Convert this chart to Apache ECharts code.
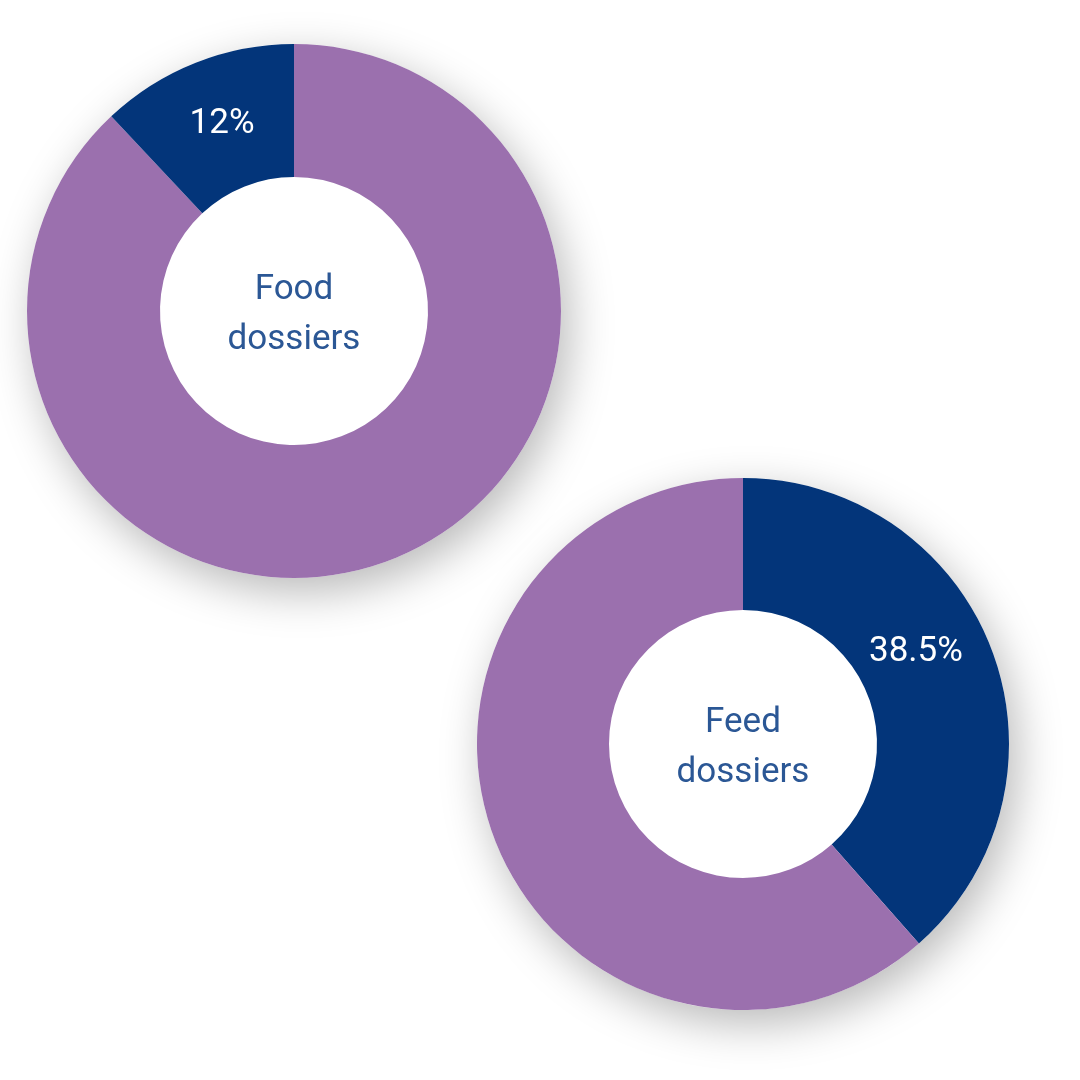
<!DOCTYPE html>
<html>
<head>
<meta charset="utf-8">
<script src="https://cdn.jsdelivr.net/npm/echarts@6/dist/echarts.min.js"></script>
<style>
  html, body { margin: 0; padding: 0; background: #fff; }
  #chart { width: 1080px; height: 1080px; }
</style>
</head>
<body>
<div id="chart"></div>
<script>
// values
var chartNames = ['Food\ndossiers', 'Feed\ndossiers'];
var sliceNames = ['Other', 'Share'];
var foodValues = [88, 12];      // purple, navy (navy ends at 12 o'clock)
var feedValues = [38.5, 61.5];  // navy, purple (navy starts at 12 o'clock)

var NAVY = '#03357a';
var PURPLE = '#9b70ae';
var TEXT = '#2b5795';

var chart = echarts.init(document.getElementById('chart'));

// white disc under each ring: carries the soft drop shadow and the centre text
function shadowDisc(name, center, r) {
  return {
    type: 'pie',
    silent: true,
    z: 1,
    center: center,
    radius: [0, r],
    startAngle: 90,
    data: [{ value: 1, name: name }],
    itemStyle: {
      color: '#ffffff',
      shadowBlur: 45,
      shadowColor: 'rgba(0,0,0,0.28)',
      shadowOffsetX: 8,
      shadowOffsetY: 14
    },
    label: {
      show: true,
      position: 'center',
      formatter: '{b}',
      color: TEXT,
      fontFamily: 'Roboto',
      fontSize: 35,
      lineHeight: 50
    },
    labelLayout: { dy: 4 },
    labelLine: { show: false },
    emphasis: { disabled: true }
  };
}

function ring(values, colors, showIdx, center, r, layout) {
  return {
    type: 'pie',
    silent: true,
    z: 2,
    center: center,
    radius: r,
    startAngle: 90,
    clockwise: true,
    data: values.map(function (v, i) {
      return {
        value: v,
        name: sliceNames[i],
        itemStyle: { color: colors[i] },
        label: { show: i === showIdx }
      };
    }),
    label: {
      position: 'inside',
      formatter: function (p) { return p.value + '%'; },
      color: '#ffffff',
      fontFamily: 'Roboto',
      fontSize: 35
    },
    labelLayout: layout,
    labelLine: { show: false },
    emphasis: { disabled: true }
  };
}

var option = {
  backgroundColor: '#ffffff',
  animation: false,
  series: [
    shadowDisc(chartNames[0], [294, 311], 267),
    ring(foodValues, [PURPLE, NAVY], 1, [294, 311], [134, 267], { dx: 3, dy: 2 }),
    shadowDisc(chartNames[1], [743, 744], 266),
    ring(feedValues, [NAVY, PURPLE], 0, [743, 744], [134, 266], { dx: -17, dy: -20 })
  ]
};

chart.setOption(option);
</script>
</body>
</html>
